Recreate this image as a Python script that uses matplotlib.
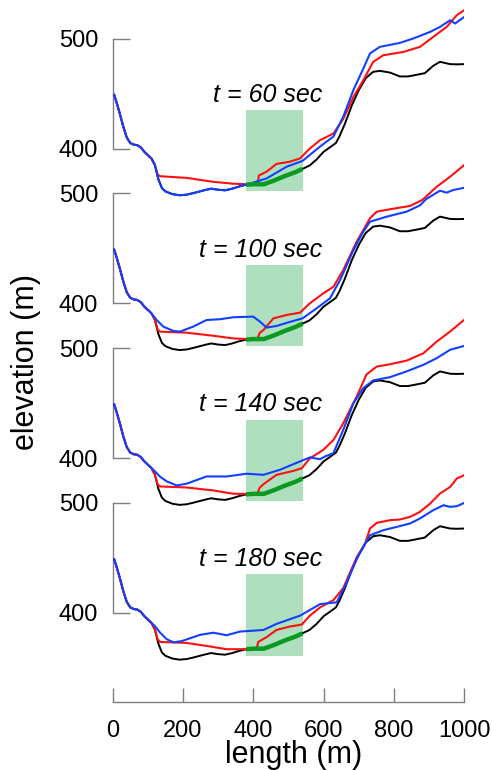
import matplotlib.pyplot as plt

plt.rcParams['font.family'] = ['Liberation Sans', 'DejaVu Sans']

# 左侧共同下降段 (x, 高程)
left_x = [0, 4, 10, 20, 30, 40, 50, 60, 70, 80, 90, 100, 110, 120]
left_y = [448, 449, 443, 432, 420, 410, 405, 403.5, 403, 401, 397, 394, 391, 385]

# 地形 (黑线)
bed_x = left_x + [130, 140, 150, 170, 190, 210, 230, 260, 280, 300, 320, 340, 360, 380,
                  400, 430, 460, 490, 520, 540, 560, 580, 600, 620, 635, 645, 660, 680,
                  700, 720, 741, 760, 789, 817, 840, 860, 888, 912, 931, 960, 980, 1000]
bed_y = left_y + [372, 364, 361, 358.5, 357.5, 358, 359.5, 362, 363.5, 362.5, 362, 363.5, 365.5, 367,
                  367.5, 367.5, 371, 375, 378.5, 381.5, 384.5, 390, 397, 401.5, 405, 411, 422, 439,
                  453, 464, 469.7, 470.6, 469, 465.5, 465.5, 466.7, 468.5, 475.2, 478.8, 476.7, 476.5, 476.7]

# 红线
red_x60 = left_x + [128, 135, 210, 286, 343, 380, 400, 412, 416, 438, 466, 504, 533, 561, 590,
                    628, 656, 685, 713, 741, 770, 827, 874, 912, 950, 979, 1000]
red_60 = left_y + [376, 374.8, 373.3, 369.7, 368, 367.5, 367.5, 368, 375.5, 379, 386, 388, 391, 400, 407.6,
                   413.6, 427, 447, 462, 478.7, 484.8, 487.8, 492.4, 501.5, 510.5, 521.2, 525.7]
red_x100 = left_x + [128, 135, 210, 286, 343, 380, 400, 412, 418, 429, 457, 495, 533, 561, 599,
                     628, 656, 694, 732, 751, 789, 846, 881, 922, 960, 1000]
red_100 = left_y + [376, 374.2, 373.3, 370.5, 368.1, 367.5, 367.5, 368, 373, 375.7, 386.3, 389.4, 391.5, 400, 409,
                    415, 430.3, 456, 477.3, 483.3, 485.5, 488.5, 494, 506, 515.1, 525.7]
red_x140 = left_x + [128, 135, 210, 286, 343, 380, 400, 412, 418, 429, 466, 514, 538, 561, 599,
                     628, 656, 694, 722, 751, 789, 836, 884, 922, 960, 1000]
red_140 = left_y + [376, 374.2, 373.3, 370.6, 367.6, 367.5, 367.5, 368, 373, 376.3, 384.8, 388.4, 390.8, 399.8, 407.4,
                    416.5, 431.7, 455.9, 476, 483.2, 485.3, 488.6, 495.3, 506, 515.1, 525.7]
red_x180 = left_x + [128, 135, 210, 267, 324, 380, 400, 410, 414, 438, 466, 504, 538, 561, 590,
                     628, 656, 694, 718, 732, 751, 789, 817, 846, 874, 903, 931, 960, 979, 1000]
red_180 = left_y + [376, 373.6, 372.7, 370, 367, 367, 367.5, 368, 373.6, 378, 384.5, 387.6, 389.4, 397.5, 405,
                    411.7, 422.6, 450.5, 463, 476.7, 481.8, 484.3, 484.9, 487.3, 491.8, 499.4, 508.5, 514.5, 522.2, 525.2]

# 蓝线
blue_x60 = left_x + [130, 140, 150, 170, 190, 210, 230, 260, 280, 300, 320, 340, 360, 380,
                     400, 438, 495, 540, 590, 628, 656, 685, 713, 732, 760, 817, 855, 903, 931, 960, 974, 1000]
blue_60 = left_y + [372, 364, 361, 358.5, 357.5, 358, 359.5, 362, 363.5, 362.5, 362, 363.5, 365.5, 367.5,
                    369, 372.8, 383.5, 388.7, 401.8, 410.9, 429, 453.3, 472.7, 486.4, 492.4, 496, 500, 506, 510.5,
                    516.6, 513.6, 519.6]
blue_x100 = left_x[:-1] + [125, 144, 173, 191, 229, 267, 305, 343, 400, 419, 438, 466, 514, 540, 580,
                           618, 647, 685, 713, 732, 779, 836, 874, 893, 931, 950, 969, 1000]
blue_100 = left_y[:-1] + [384.8, 378.8, 374.8, 374.2, 378.8, 384.8, 385.5, 387.3, 387.9, 383.3, 377.9, 379.4, 384, 386.3, 395.4,
                          404.5, 421.2, 448.5, 465.2, 474.2, 478.7, 483.3, 489, 495, 502.4, 500.6, 503, 505]
blue_x140 = left_x[:-1] + [120, 135, 154, 182, 210, 267, 324, 381, 429, 476, 533, 561, 590, 604, 628,
                           656, 685, 713, 741, 789, 836, 884, 922, 960, 1000]
blue_140 = left_y[:-1] + [388, 383, 378.8, 375.2, 376.7, 383.3, 383.3, 385.8, 384.8, 389.4, 397, 400.6, 399, 401.5, 404.5,
                          425.8, 450, 463.6, 470.6, 473.6, 478.8, 484.8, 490.9, 498.5, 502]
blue_x180 = left_x[:-1] + [120, 135, 154, 173, 196, 248, 286, 324, 362, 429, 466, 533, 590, 637,
                           666, 694, 732, 770, 808, 846, 874, 912, 941, 960, 979, 1000]
blue_180 = left_y[:-1] + [388, 382, 376, 373.3, 374.3, 380, 382, 379.7, 383, 384.5, 390, 397.5, 408, 409.6,
                          427.8, 449, 470.6, 475.2, 478.2, 481.3, 485.8, 493.4, 497.9, 496.4, 497, 500]

times = ['t = 60 sec', 't = 100 sec', 't = 140 sec', 't = 180 sec']
red_xs = [red_x60, red_x100, red_x140, red_x180]
red_ys = [red_60, red_100, red_140, red_180]
blue_xs = [blue_x60, blue_x100, blue_x140, blue_x180]
blue_ys = [blue_60, blue_100, blue_140, blue_180]

# 绿色区域
zone_x = [380, 540]
zone_y = [361, 435]
seg_x = [x for x in bed_x if zone_x[0] <= x <= zone_x[1]]
seg_y = [y for x, y in zip(bed_x, bed_y) if zone_x[0] <= x <= zone_x[1]]

W, H = 492, 770
fig = plt.figure(figsize=(W / 100, H / 100), dpi=100)

px_per_m = 1.1
left_px, right_px = 112.7, 464.2
gray = '#7f7f7f'

for k in range(4):
    y500 = 38.5 + 154.8 * k
    ytop = 530
    ybot = 340 if k < 3 else 500 - (702 - y500) / px_per_m
    top_px = y500 - (ytop - 500) * px_per_m
    bot_px = y500 + (500 - ybot) * px_per_m
    ax = fig.add_axes([left_px / W, 1 - bot_px / H, (right_px - left_px) / W, (bot_px - top_px) / H])
    ax.patch.set_alpha(0)
    ax.set_xlim(0, 1000)
    ax.set_ylim(ybot, ytop)

    ax.axvspan(zone_x[0], zone_x[1], ymin=(zone_y[0] - ybot) / (ytop - ybot),
               ymax=(zone_y[1] - ybot) / (ytop - ybot), color='#aee0bf', lw=0, zorder=1)
    ax.plot(bed_x, bed_y, color='black', lw=1.4, zorder=2)
    ax.plot(red_xs[k], red_ys[k], color='#ff1010', lw=1.5, zorder=3)
    ax.plot(blue_xs[k], blue_ys[k], color='#1040ff', lw=1.5, zorder=4)
    ax.plot(seg_x, seg_y, color='#0a9a22', lw=3.2, solid_capstyle='butt', zorder=5)
    ax.text(597, 442.4, times[k], ha='right', va='baseline', style='italic', fontsize=18)

    for s in ['top', 'right']:
        ax.spines[s].set_visible(False)
    ax.spines['left'].set_bounds(400, 500)
    ax.spines['left'].set_color(gray)
    ax.spines['left'].set_linewidth(1.0)
    ax.set_yticks([400, 500])
    ax.tick_params(axis='y', direction='in', length=12, width=1.0, color=gray, pad=10.5, labelsize=17)

    if k < 3:
        ax.spines['bottom'].set_visible(False)
        ax.set_xticks([])
    else:
        ax.spines['bottom'].set_color(gray)
        ax.spines['bottom'].set_linewidth(1.0)
        ax.set_xticks([0, 200, 400, 600, 800, 1000])
        ax.tick_params(axis='x', direction='in', length=10, width=1.0, color=gray, pad=13, labelsize=17)

fig.text(294 / W, 1 - 763 / H, 'length (m)', ha='center', va='baseline', fontsize=22)
fig.text(26 / W, 1 - 362 / H, 'elevation (m)', ha='center', va='center', rotation=90, fontsize=22)

fig.savefig('out.png', dpi=100)
